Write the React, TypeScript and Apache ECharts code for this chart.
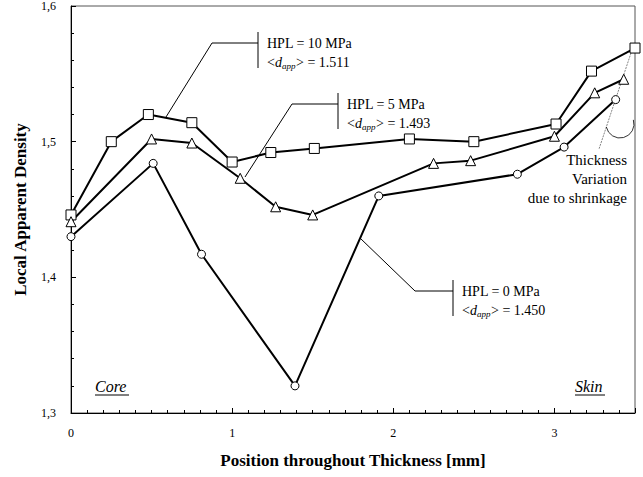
import React, { useEffect, useRef } from "react";
import * as echarts from "echarts";

// Position throughout thickness [mm] and local apparent density
const xHPL10 = [0, 0.25, 0.48, 0.75, 1.0, 1.24, 1.51, 2.1, 2.5, 3.01, 3.23, 3.5];
const yHPL10 = [1.446, 1.5, 1.52, 1.514, 1.485, 1.492, 1.495, 1.502, 1.5, 1.513, 1.552, 1.569];
const xHPL5 = [0, 0.5, 0.75, 1.05, 1.27, 1.5, 2.25, 2.48, 3.0, 3.25, 3.43];
const yHPL5 = [1.441, 1.502, 1.499, 1.473, 1.452, 1.446, 1.484, 1.486, 1.504, 1.536, 1.546];
const xHPL0 = [0, 0.51, 0.81, 1.39, 1.91, 2.77, 3.06, 3.38];
const yHPL0 = [1.43, 1.484, 1.417, 1.32, 1.46, 1.476, 1.496, 1.531];

const labelsHPL = ["HPL = 10 MPa", "HPL = 5 MPa", "HPL = 0 MPa"];
const meanDensity = ["1.511", "1.493", "1.450"];

const FONT = "Liberation Serif";

function txt(x: number, y: number, text: string, size: number, extra: any = {}) {
  return {
    type: "text",
    x,
    y,
    style: {
      text,
      fontFamily: FONT,
      fontSize: size,
      fill: "#000",
      verticalAlign: "middle",
      align: "left",
      ...extra,
    },
  };
}

function labelBlock(
  diagFrom: [number, number],
  elbowX: number,
  lineY: number,
  barX: number,
  title: string,
  value: string
) {
  const x0 = barX + 9;
  const y2 = lineY + 19;
  const lineStyle = { stroke: "#000", lineWidth: 1 };
  return [
    {
      type: "polyline",
      shape: { points: [diagFrom, [elbowX, lineY], [barX, lineY]] },
      style: { ...lineStyle, fill: null },
      silent: true,
    },
    {
      type: "line",
      shape: { x1: barX, y1: lineY - 11, x2: barX, y2: lineY + 25 },
      style: lineStyle,
      silent: true,
    },
    txt(x0, lineY, title, 14),
    txt(x0, y2, "<", 14),
    txt(x0 + 8, y2, "d", 14, { fontStyle: "italic" }),
    txt(x0 + 15, y2 + 4, "app", 9, { fontStyle: "italic" }),
    txt(x0 + 29, y2, "> = " + value, 14),
  ];
}

export default function App() {
  const ref = useRef<HTMLDivElement>(null);

  useEffect(() => {
    document.body.style.margin = "0";
    if (!ref.current) return;
    const chart = echarts.init(ref.current, null, { renderer: "svg" });

    const markerStyle = { color: "#fff", borderColor: "#000", borderWidth: 1 };
    const seriesBase = {
      type: "line",
      lineStyle: { color: "#000", width: 2 },
      itemStyle: markerStyle,
      showAllSymbol: true,
    };

    const graphics: any[] = [
      ...labelBlock([166, 117], 212, 43, 258, labelsHPL[0], meanDensity[0]),
      ...labelBlock([245, 177], 292, 104, 338, labelsHPL[1], meanDensity[1]),
      ...labelBlock([360, 238], 415, 291, 453, labelsHPL[2], meanDensity[2]),
      {
        type: "line",
        shape: { x1: 632, y1: 50, x2: 599, y2: 149 },
        style: { stroke: "#666", lineWidth: 0.8, lineDash: [2, 1] },
        silent: true,
      },
      {
        type: "arc",
        shape: { cx: 620, cy: 124, r: 14, startAngle: -0.3, endAngle: 2.93, clockwise: true },
        style: { stroke: "#000", lineWidth: 0.8, fill: null },
        silent: true,
      },
      txt(627, 150.5, "Thickness\nVariation\ndue to shrinkage", 15, {
        align: "right",
        verticalAlign: "top",
        lineHeight: 19,
      }),
      txt(95, 386, "Core", 16, { fontStyle: "italic" }),
      {
        type: "line",
        shape: { x1: 95, y1: 395, x2: 129, y2: 395 },
        style: { stroke: "#000", lineWidth: 1 },
        silent: true,
      },
      txt(575, 386, "Skin", 16, { fontStyle: "italic" }),
      {
        type: "line",
        shape: { x1: 575, y1: 395, x2: 605, y2: 395 },
        style: { stroke: "#000", lineWidth: 1 },
        silent: true,
      },
    ];

    chart.setOption({
      animation: false,
      backgroundColor: "#fff",
      textStyle: { fontFamily: FONT },
      grid: {
        left: 71,
        right: 8,
        top: 6,
        bottom: 64,
        show: true,
        borderColor: "#555",
        borderWidth: 1,
        backgroundColor: "transparent",
      },
      xAxis: {
        type: "value",
        min: 0,
        max: 3.5,
        interval: 1,
        name: "Position throughout Thickness [mm]",
        nameLocation: "middle",
        nameGap: 39,
        nameTextStyle: { fontFamily: FONT, fontWeight: "bold", fontSize: 17, color: "#000" },
        axisLine: { lineStyle: { color: "#000", width: 1 } },
        axisTick: { inside: true, length: 5, lineStyle: { color: "#000" } },
        minorTick: { show: true, splitNumber: 10, length: 3, lineStyle: { color: "#000" } },
        axisLabel: {
          fontFamily: FONT,
          fontSize: 12,
          color: "#000",
          margin: 14,
          showMaxLabel: false,
          formatter: (v: number) => (v > 3.4 ? "" : String(v)),
        },
        splitLine: { show: false },
      },
      yAxis: {
        type: "value",
        min: 1.3,
        max: 1.6,
        interval: 0.1,
        name: "Local Apparent Density",
        nameLocation: "middle",
        nameGap: 42,
        nameTextStyle: { fontFamily: FONT, fontWeight: "bold", fontSize: 17, color: "#000" },
        axisLine: { show: true, lineStyle: { color: "#000", width: 1 } },
        axisTick: { show: true, inside: true, length: 5, lineStyle: { color: "#000" } },
        minorTick: { show: true, splitNumber: 5, length: 3, lineStyle: { color: "#000" } },
        axisLabel: {
          fontFamily: FONT,
          fontSize: 12,
          color: "#000",
          margin: 15,
          formatter: (v: number) => v.toFixed(1).replace(".", ","),
        },
        splitLine: { show: false },
      },
      series: [
        { ...seriesBase, name: labelsHPL[0], symbol: "rect", symbolSize: 10, data: pairs(xHPL10, yHPL10) },
        { ...seriesBase, name: labelsHPL[1], symbol: "triangle", symbolSize: 10, data: pairs(xHPL5, yHPL5) },
        { ...seriesBase, name: labelsHPL[2], symbol: "circle", symbolSize: 8, data: pairs(xHPL0, yHPL0) },
      ],
      graphic: graphics,
    });

    return () => chart.dispose();
  }, []);

  return <div ref={ref} style={{ width: 643, height: 477 }} />;
}

function pairs(xs: number[], ys: number[]) {
  return xs.map((x, i) => [x, ys[i]]);
}
